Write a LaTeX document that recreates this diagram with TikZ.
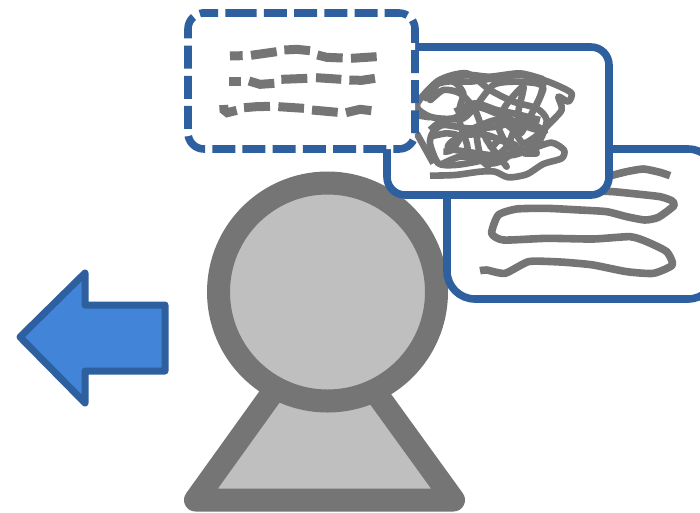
\documentclass[tikz,border=0pt]{standalone}
\definecolor{pgray}{HTML}{757575}
\definecolor{pfill}{HTML}{BFBFBF}
\definecolor{pblue}{HTML}{2E5F9E}
\definecolor{afill}{HTML}{4285D8}
\tikzset{
  person/.style={draw=pgray,fill=pfill,line width=23pt,line join=round},
  cardbox/.style={draw=pblue,fill=white,line width=7.6pt,rounded corners=18pt},
  backbox/.style={draw=pblue,fill=white,line width=7.6pt,rounded corners=28pt},
  dashbox/.style={draw=pblue,fill=white,line width=7.6pt,rounded corners=16pt,dash pattern=on 23pt off 7.2pt},
  squiggle/.style={draw=pgray,line width=7.6pt,line join=round},
  tangle/.style={draw=pgray,line width=6.6pt,line join=round},
  dashpiece/.style={draw=pgray,line width=9pt},
  zoomA/.style={shift={(380,40)},x=0.33333pt,y=-0.33333pt},
  zoomB/.style={shift={(440,140)},x=0.33333pt,y=-0.33333pt},
  zoomC/.style={shift={(180,0)},x=0.33333pt,y=-0.33333pt},
}
\begin{document}
\begin{tikzpicture}[x=1pt,y=-1pt]
\useasboundingbox (0,0) rectangle (700,512);
% person
\draw[person] (195.5,500) -- (453.5,500) -- (324,321) -- cycle;
\draw[person] (327.5,292) circle (109pt);
% back card
\draw[backbox] (447,149) rectangle (716,299);
\begin{scope}[zoomB]
\draw[squiggle] plot[smooth,tension=0.35] coordinates {(690,107) (660,97) (610,87) (560,95) (520,105) (440,125) (440,150) (520,155) (590,162) (660,170) (695,182) (702,197) (655,232) (615,240) (560,230) (500,215) (420,210) (320,205) (230,207) (175,225) (155,280) (190,300) (320,295) (460,297) (570,290) (620,305) (680,335) (697,375) (640,400) (560,395) (460,375) (390,368) (340,365) (265,365) (195,400) (140,390) (120,392)};
\end{scope}
% middle card
\draw[cardbox] (387,47) rectangle (609,195);
\begin{scope}[zoomA]
\draw[tangle] plot[smooth,tension=0.45] coordinates {(150,407) (225,405) (300,395) (345,395) (385,412) (440,403) (490,372) (545,355) (552,330) (515,308) (460,325) (400,345) (330,345) (260,335) (205,325) (215,305) (260,285) (320,285) (385,310) (440,330) (480,300) (500,240) (470,205) (400,185) (330,150) (260,100) (175,122) (110,195) (150,230) (220,235) (285,200) (360,225) (440,260) (495,275) (430,240) (350,260) (265,265) (190,255) (160,275) (150,310) (175,370) (225,375) (290,365) (350,350) (380,380) (320,300) (285,210) (240,160) (190,150) (150,180) (180,125) (270,125) (340,115) (420,105) (490,120) (540,140) (575,160) (565,185) (535,170) (545,210) (500,260) (450,320) (400,340) (355,260) (375,200) (430,140) (415,215) (420,280) (440,250) (480,170) (490,130)};
\draw[tangle] (105,225) -- (150,232);
\draw[tangle] (110,280) -- (160,370);
\draw[tangle] plot[smooth,tension=0.45] coordinates {(130,180) (165,135) (220,125) (250,160) (240,200) (240,250) (260,310) (265,345)};
\draw[tangle] plot[smooth,tension=0.45] coordinates {(225,215) (285,190) (350,210) (400,220) (480,240)};
\draw[tangle] plot[smooth,tension=0.45] coordinates {(150,270) (190,240) (250,235) (290,195) (340,135) (400,125) (470,130) (490,145) (470,195)};
\draw[tangle] plot[smooth,tension=0.45] coordinates {(280,265) (350,240) (400,270) (430,310) (480,280) (495,265)};
\draw[tangle] plot[smooth,tension=0.45] coordinates {(150,290) (200,280) (240,290) (215,330) (190,335)};
\draw[tangle] plot[smooth,tension=0.45] coordinates {(290,290) (300,340) (330,370) (370,360) (410,320) (360,300) (330,330)};
\draw[tangle] plot[smooth,tension=0.45] coordinates {(380,215) (400,270) (380,320) (360,340)};
\draw[tangle] plot[smooth,tension=0.45] coordinates {(180,375) (240,350) (300,360) (330,385)};
\draw[tangle] plot[smooth,tension=0.45] coordinates {(430,340) (470,340) (455,320)};
\draw[tangle] plot[smooth,tension=0.45] coordinates {(170,125) (260,105) (330,110) (420,100) (490,118)};
\end{scope}
% front dashed card
\draw[dashbox] (217.7,13) -- (415,13) -- (415,149) -- (188,149) -- (188,13) -- cycle;
\begin{scope}[zoomC]
\draw[dashpiece] (150,168) -- (188,167);
\draw[dashpiece] (213,166) -- (290,155);
\draw[dashpiece] (513,175) -- (590,170);
\draw[dashpiece] (148,245) -- (182,245);
\draw[dashpiece] (304,238) -- (382,235);
\draw[dashpiece] (408,233) -- (484,238);
\draw[dashpiece] (295,320) -- (372,325);
\draw[dashpiece] (396,330) -- (473,337);
\draw[dashpiece] (313,150) -- (350,148) -- (390,152);
\draw[dashpiece] (412,165) -- (440,172) -- (488,174);
\draw[dashpiece] (207,243) -- (240,253) -- (283,250);
\draw[dashpiece] (508,240) -- (545,241) -- (585,235);
\draw[dashpiece] (131,315) -- (132,330) -- (142,338) -- (170,331);
\draw[dashpiece] (192,323) -- (230,320) -- (270,319);
\draw[dashpiece] (498,338) -- (540,328) -- (574,332);
\end{scope}
% arrow
\draw[draw=pblue,fill=afill,line width=7pt,line join=round] (20,337) -- (85,273) -- (85,305) -- (165,305) -- (165,371) -- (85,371) -- (85,403) -- cycle;
\end{tikzpicture}
\end{document}
